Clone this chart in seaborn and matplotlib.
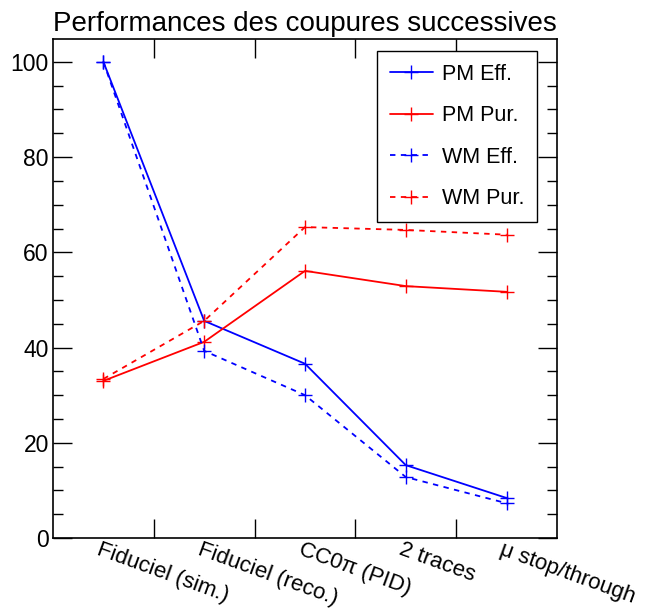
import matplotlib
matplotlib.use("Agg")
import matplotlib.pyplot as plt
import seaborn as sns
import pandas as pd
import numpy as np

categories = ["Fiduciel (sim.)", "Fiduciel (reco.)", "CC0\u03c0 (PID)", "2 traces", "\u03bc stop/through"]
pm_eff = [100.0, 45.6, 36.6, 15.3, 8.4]
pm_pur = [33.0, 41.2, 56.1, 52.9, 51.7]
wm_eff = [100.0, 39.3, 30.0, 12.8, 7.3]
wm_pur = [33.4, 45.6, 65.3, 64.7, 63.7]
series_names = ["PM Eff.", "PM Pur.", "WM Eff.", "WM Pur."]

sns.set_theme(style="ticks")
plt.rcParams['font.family'] = ['Liberation Sans', 'DejaVu Sans']
plt.rcParams['text.color'] = 'black'
plt.rcParams['xtick.color'] = 'black'
plt.rcParams['ytick.color'] = 'black'
plt.rcParams['axes.labelcolor'] = 'black'

fig = plt.figure(figsize=(6.48, 6.08), dpi=100)
ax = fig.add_axes([53/648, 1-538/608, (557-53)/648, (538-39)/608])

pos = np.arange(len(categories))
styles = [("blue", "-"), ("red", "-"), ("blue", (0, (3, 3))), ("red", (0, (3, 3)))]
for name, vals, (c, ls) in zip(series_names, [pm_eff, pm_pur, wm_eff, wm_pur], styles):
    df = pd.DataFrame({"x": pos, "y": vals})
    sns.lineplot(data=df, x="x", y="y", ax=ax, color=c, linestyle=ls, linewidth=1.3,
                 marker="+", markersize=10, markeredgewidth=1.0, markeredgecolor=c,
                 label=name)

ax.set_xlim(-0.5, len(categories) - 0.5)
ax.set_ylim(0, 104.8)
ax.set_xlabel("")
ax.set_ylabel("")
ax.set_xticks(pos[:-1] + 0.5)
ax.set_xticklabels([])
for p, lab in zip(pos, categories):
    ax.text(p - 0.02, -0.2, lab, rotation=-20, rotation_mode="anchor", ha="left", va="top",
            fontsize=16, color="black", transform=ax.transData)
ax.set_yticks([0, 20, 40, 60, 80, 100])
ax.set_yticks(np.arange(0, 105, 5), minor=True)
ax.tick_params(axis="y", which="major", direction="in", length=14, width=1, left=True, right=True,
               labelsize=16.5, pad=3, colors="black")
ax.tick_params(axis="y", which="minor", direction="in", length=7, width=1, left=True, right=True,
               colors="black")
ax.tick_params(axis="x", which="major", direction="in", length=14, width=1, top=True, bottom=True,
               colors="black")
for s in ax.spines.values():
    s.set_linewidth(1.2)
    s.set_color("black")
ax.set_title("Performances des coupures successives", fontsize=20, pad=6, color="black")

leg = ax.legend(loc="upper left", bbox_to_anchor=((377-53)/504, (538-51)/499), frameon=True,
                fancybox=False, edgecolor="black", framealpha=1, fontsize=15.5, labelspacing=0.95,
                handlelength=2.0, borderpad=0.6, handletextpad=0.4, borderaxespad=0)
leg.get_frame().set_linewidth(1.0)
for t in leg.get_texts():
    t.set_color("black")
ax.grid(False)
fig.savefig("out.png", dpi=100)
